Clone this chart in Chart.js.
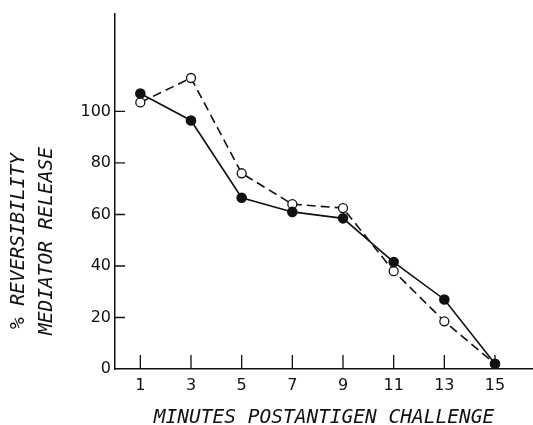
<!DOCTYPE html>
<html>
<head>
<meta charset="utf-8">
<script src="https://cdn.jsdelivr.net/npm/chart.js@4"></script>
<style>
  html, body { margin: 0; padding: 0; background: #fff; }
  #wrap { width: 533px; height: 425px; }
</style>
</head>
<body>
<div id="wrap"><canvas id="chart"></canvas></div>
<script>
// data
const minutes = [1, 3, 5, 7, 9, 11, 13, 15];
const filledValues = [107, 96.5, 66.5, 61, 58.5, 41.5, 27, 2];
const openValues = [103.5, 113, 76, 64, 62.5, 38, 18.5, 2];
const yTickValues = [0, 20, 40, 60, 80, 100];
const yTitleLines = ['% REVERSIBILITY', 'MEDIATOR RELEASE'];
const xTitle = 'MINUTES POSTANTIGEN CHALLENGE';

const ink = '#111';

// inward tick marks + axis titles
const axisMarks = {
    id: 'axisMarks',
    beforeDatasetsDraw(chart) {
        const {ctx, chartArea, scales: {x, y}} = chart;
        ctx.save();
        ctx.strokeStyle = ink;
        ctx.lineWidth = 1.3;
        ctx.beginPath();
        yTickValues.forEach(v => {
            if (v === 0) return;
            const py = y.getPixelForValue(v);
            ctx.moveTo(chartArea.left, py);
            ctx.lineTo(chartArea.left + 10, py);
        });
        minutes.forEach(m => {
            const px = x.getPixelForValue(m);
            ctx.moveTo(px, chartArea.bottom);
            ctx.lineTo(px, chartArea.bottom - 14);
        });
        ctx.stroke();
        ctx.restore();
    },
    afterDraw(chart) {
        const {ctx, chartArea} = chart;
        ctx.save();
        ctx.fillStyle = ink;
        ctx.font = 'italic 19.5px "DejaVu Sans Mono"';
        ctx.textAlign = 'center';
        ctx.textBaseline = 'middle';
        ctx.fillText(xTitle, (chartArea.left + chartArea.right) / 2, chartArea.bottom + 49);

        const cy = chartArea.bottom - 128;
        yTitleLines.forEach((line, i) => {
            ctx.save();
            ctx.translate(19 + i * 28, cy);
            ctx.rotate(-Math.PI / 2);
            ctx.fillText(line, 0, 0);
            ctx.restore();
        });
        ctx.restore();
    }
};

new Chart(document.getElementById('chart').getContext('2d'), {
    type: 'line',
    data: {
        datasets: [{
            label: 'filled',
            data: minutes.map((m, i) => ({x: m, y: filledValues[i]})),
            borderColor: ink,
            borderWidth: 1.6,
            pointRadius: 4.5,
            pointBackgroundColor: ink,
            pointBorderColor: ink,
            order: 1
        }, {
            label: 'open',
            data: minutes.map((m, i) => ({x: m, y: openValues[i]})),
            borderColor: ink,
            borderWidth: 1.6,
            borderDash: [9, 5],
            pointRadius: 4.5,
            pointBackgroundColor: '#fff',
            pointBorderColor: ink,
            pointBorderWidth: 1.3,
            order: 2
        }]
    },
    options: {
        responsive: true,
        maintainAspectRatio: false,
        animation: false,
        layout: { autoPadding: false, padding: { top: 13, left: 0, right: 0, bottom: 0 } },
        scales: {
            x: {
                type: 'linear',
                min: 0,
                max: 16.5,
                afterBuildTicks: scale => { scale.ticks = minutes.map(v => ({value: v})); },
                afterFit: scale => { scale.height = 56; },
                grid: { display: false, drawTicks: false },
                border: { display: true, color: ink, width: 1.5 },
                ticks: {
                    color: ink,
                    padding: 7,
                    font: { family: 'DejaVu Sans', size: 16 },
                    maxRotation: 0,
                    autoSkip: false
                }
            },
            y: {
                min: 0,
                max: 138,
                afterBuildTicks: scale => { scale.ticks = yTickValues.map(v => ({value: v})); },
                afterFit: scale => { scale.width = 115; },
                grid: { display: false, drawTicks: false },
                border: { display: true, color: ink, width: 1.5 },
                ticks: {
                    color: ink,
                    padding: 4,
                    font: { family: 'DejaVu Sans', size: 16 }
                }
            }
        },
        plugins: {
            legend: { display: false },
            tooltip: { enabled: false }
        }
    },
    plugins: [axisMarks]
});
</script>
</body>
</html>
